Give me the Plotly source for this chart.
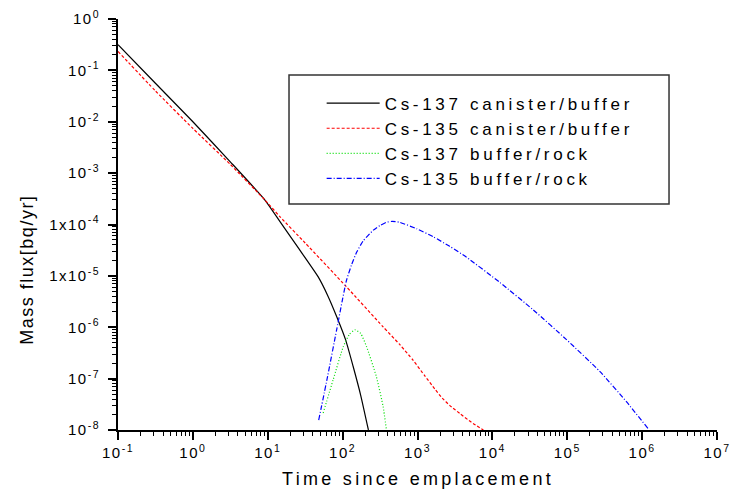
import plotly.graph_objects as go

# ---- data ----
t_cs137_cb = [0.1, 0.316, 1, 3.16, 9.12, 14.5, 26.3, 47.2, 63.1, 83.2, 110, 138, 174, 221]
f_cs137_cb = [0.316, 0.0562, 0.01, 1.66e-3, 3.02e-4, 1.15e-4, 3.31e-5, 9.55e-6, 4.17e-6,
              1.62e-6, 5.62e-7, 1.74e-7, 4.79e-8, 1.0e-8]

t_cs135_cb = [0.1, 0.316, 1, 3.16, 9.12, 14.6, 31.6, 112, 347, 582, 871, 1260, 1700,
              2140, 2690, 3680, 5250, 7590]
f_cs135_cb = [0.234, 0.0398, 7.41e-3, 1.48e-3, 3.02e-4, 1.41e-4, 4.37e-5, 6.17e-6, 1.02e-6,
              4.57e-7, 2.29e-7, 1.12e-7, 6.31e-8, 4.17e-8, 3.02e-8, 2.09e-8, 1.41e-8, 1.0e-8]

t_cs137_br = [55, 74.8, 102, 123, 146, 174, 209, 282, 347, 385]
f_cs137_br = [2.14e-8, 9.55e-8, 4.17e-7, 7.24e-7, 8.91e-7, 7.59e-7, 4.17e-7, 1.10e-7,
              2.88e-8, 1.0e-8]

t_cs135_br = [47.9, 63.1, 83.2, 112, 132, 155, 188, 257, 316, 380, 457, 582, 977, 1620,
              2690, 4520, 12600, 35100, 97700, 272000, 617000, 1200000]
f_cs135_br = [1.55e-8, 1.12e-7, 8.91e-7, 7.94e-6, 1.66e-5, 2.95e-5, 4.79e-5, 7.76e-5,
              9.55e-5, 1.10e-4, 1.15e-4, 1.10e-4, 8.24e-5, 5.78e-5, 3.76e-5, 2.30e-5,
              7.45e-6, 2.18e-6, 5.75e-7, 1.38e-7, 3.55e-8, 1.07e-8]

series_names = ["Cs-137 canister/buffer", "Cs-135 canister/buffer",
                "Cs-137 buffer/rock", "Cs-135 buffer/rock"]

x_tickvals = [1e-1, 1e0, 1e1, 1e2, 1e3, 1e4, 1e5, 1e6, 1e7]
x_ticktext = ["10<sup>-1</sup>", "10<sup>0</sup>", "10<sup>1</sup>", "10<sup>2</sup>",
              "10<sup>3</sup>", "10<sup>4</sup>", "10<sup>5</sup>", "10<sup>6</sup>",
              "10<sup>7</sup>"]
y_tickvals = [1e0, 1e-1, 1e-2, 1e-3, 1e-4, 1e-5, 1e-6, 1e-7, 1e-8]
y_ticktext = ["10<sup>0</sup>", "10<sup>-1</sup>", "10<sup>-2</sup>", "10<sup>-3</sup>",
              "1x10<sup>-4</sup>", "1x10<sup>-5</sup>", "10<sup>-6</sup>", "10<sup>-7</sup>",
              "10<sup>-8</sup>"]

FONT = "Liberation Sans, Arial, sans-serif"


def spaced(s, px):
    return '<span style="letter-spacing:%spx">%s</span>' % (px, s)


def minor_vals(decades):
    return [m * 10.0 ** d for d in decades for m in range(2, 10)]


fig = go.Figure()
styles = [
    dict(color="black", width=1.2, dash="solid"),
    dict(color="#ff0000", width=1.2, dash="3px,2px"),
    dict(color="#00dd00", width=1.2, dash="1px,2px"),
    dict(color="#0000ff", width=1.2, dash="5px,2px,1px,2px"),
]
datasets = [(t_cs137_cb, f_cs137_cb), (t_cs135_cb, f_cs135_cb),
            (t_cs137_br, f_cs137_br), (t_cs135_br, f_cs135_br)]
for (tx, fy), nm, st in zip(datasets, series_names, styles):
    fig.add_trace(go.Scatter(x=tx, y=fy, mode="lines", name=spaced(nm, 3.7),
                             line=dict(shape="spline", smoothing=0.5, **st)))

axis_common = dict(
    type="log", showgrid=False, zeroline=False, showline=True, linecolor="black",
    linewidth=2, ticks="outside", ticklen=8, tickwidth=1.5, tickcolor="black",
    tickfont=dict(family=FONT, size=15, color="black"),
    mirror=False, automargin=False,
)
fig.update_xaxes(range=[-1, 7], tickmode="array", tickvals=x_tickvals,
                 ticktext=[spaced(s, 1.5) for s in x_ticktext],
                 minor=dict(ticks="outside", ticklen=4, tickwidth=1, tickcolor="black",
                            tickmode="array", tickvals=minor_vals(range(-1, 7)),
                            showgrid=False),
                 **axis_common)
fig.update_yaxes(range=[-8, 0], tickmode="array", tickvals=y_tickvals,
                 ticktext=[spaced(s, 1.5) for s in y_ticktext], ticklabelstandoff=5,
                 minor=dict(ticks="outside", ticklen=4, tickwidth=1, tickcolor="black",
                            tickmode="array", tickvals=minor_vals(range(-8, 0)),
                            showgrid=False),
                 **axis_common)

fig.add_shape(type="rect", xref="paper", yref="paper", x0=0.2855, x1=0.9199,
              y0=0.5499, y1=0.8637, line=dict(color="#333333", width=1.5))

fig.add_annotation(text=spaced("Time since emplacement", 3.3), xref="paper", yref="paper",
                   x=0.5, y=-0.12, xanchor="center", yanchor="middle", showarrow=False,
                   font=dict(family=FONT, size=18, color="black"))
fig.add_annotation(text=spaced("Mass flux[bq/yr]", 1.5), xref="paper", yref="paper",
                   x=-0.152, y=0.39, xanchor="center", yanchor="middle", showarrow=False,
                   textangle=-90, font=dict(family=FONT, size=18, color="black"))

fig.update_layout(
    width=731, height=497,
    margin=dict(l=118, r=14, t=19, b=67),
    plot_bgcolor="white", paper_bgcolor="white",
    showlegend=True,
    legend=dict(x=0.34, y=0.838, xanchor="left", yanchor="top", bgcolor="rgba(0,0,0,0)",
                borderwidth=0, itemwidth=53,
                font=dict(family=FONT, size=17, color="black")),
)

fig.write_html("out.html", config={"displayModeBar": False},
               post_script="document.body.style.margin='0';")
